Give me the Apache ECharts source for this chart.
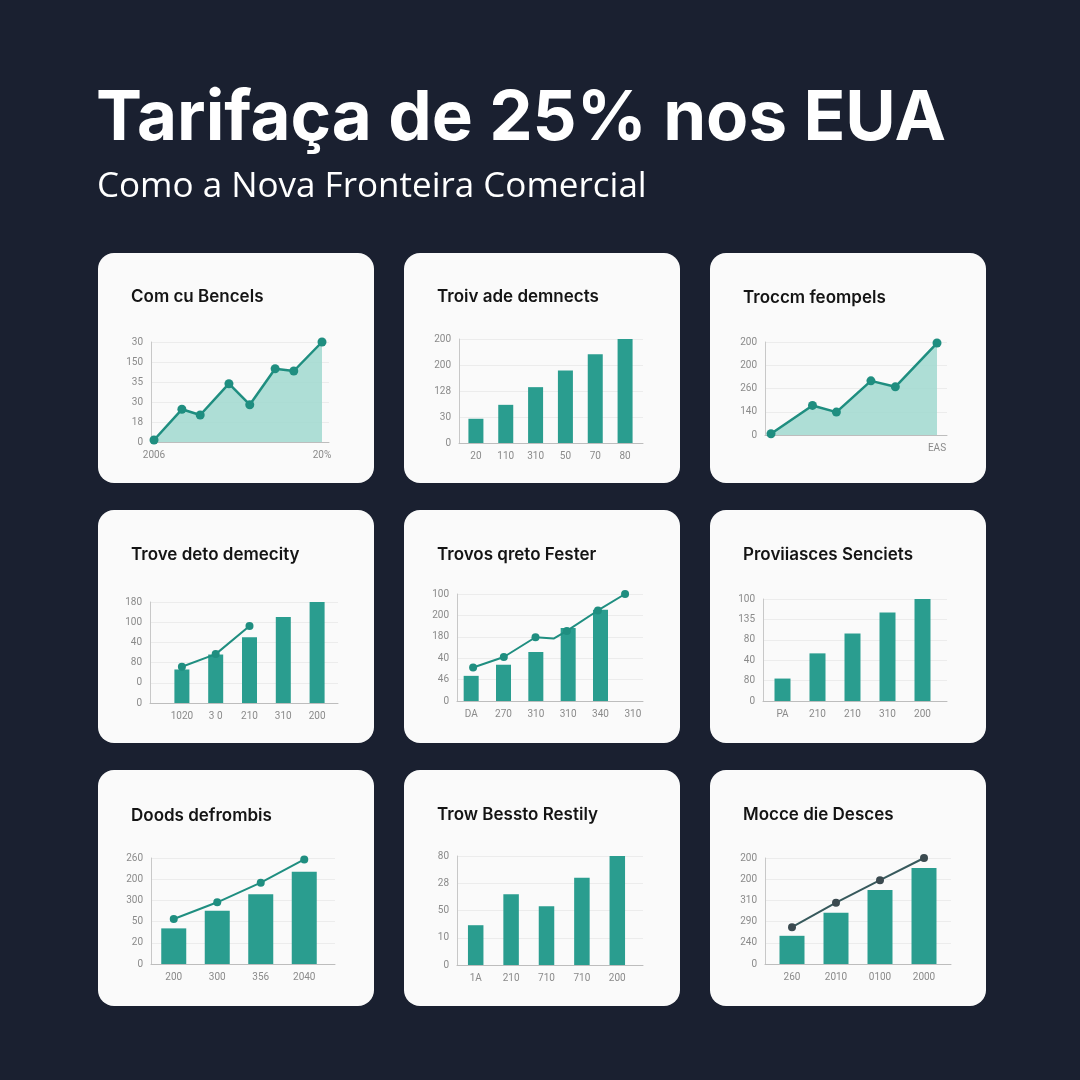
<!DOCTYPE html>
<html>
<head>
<meta charset="utf-8">
<script src="https://cdn.jsdelivr.net/npm/echarts@6/dist/echarts.min.js"></script>
<style>
	html, body { margin: 0; padding: 0; background: #1a2030; }
	#chartWrapper { width: 1080px; height: 1080px; }
</style>
</head>
<body>
<div id="chartWrapper"></div>
<script>
const TEAL = "#2a9d8f" // 柱狀顏色
const LINE_TEAL = "#1f8e80"
const AREA_FILL = "#a5dad1"
const LABEL_COLOR = "#8a8a8a"

// 標題
const mainTitle = "Tarifaça de 25% nos EUA"
const subTitle = "Como a Nova Fronteira Comercial"

// 卡片 1 - 面積圖
const p1Title = "Com cu Bencels"
const p1YLabels = ["0", "18", "30", "35", "150", "30"]
const p1XLabels = ["2006", "20%"]
const p1X = [0, 1.66, 2.75, 4.46, 5.7, 7.21, 8.32, 10]
const p1Values = [2, 32.7, 27, 58.3, 37.3, 73.3, 71, 100]

// 卡片 2 - 柱狀
const p2Title = "Troiv ade demnects"
const p2YLabels = ["0", "30", "128", "200", "200"]
const p2XLabels = ["20", "110", "310", "50", "70", "80"]
const p2Bars = [23.3, 36.7, 53.7, 69.6, 85.3, 100]

// 卡片 3 - 面積圖
const p3Title = "Troccm feompels"
const p3YLabels = ["0", "140", "260", "200", "200"]
const p3XLabels = ["", "EAS"]
const p3X = [0, 2.5, 3.94, 6.02, 7.49, 10]
const p3Values = [1.4, 31.8, 24.6, 58.2, 51.8, 98.9]

// 卡片 4 - 柱狀 + 折線
const p4Title = "Trove deto demecity"
const p4YLabels = ["0", "0", "80", "40", "100", "180"]
const p4XLabels = ["1020", "3 0", "210", "310", "200"]
const p4Bars = [33.2, 48, 65.1, 85.2, 100]
const p4Line = [35.9, 48.4, 76.3, "-", "-"]

// 卡片 5 - 柱狀 + 折線
const p5Title = "Trovos qreto Fester"
const p5YLabels = ["0", "46", "40", "180", "200", "100"]
const p5XLabels = ["DA", "270", "310", "310", "340", "310"]
const p5Bars = [23.5, 33.9, 45.8, 68.3, 85.3, "-"]
const p5LineX = [0.06, 1.01, 1.99, 2.55, 2.96, 3.92, 4.76]
const p5LineY = [31.3, 41.1, 59.6, 58.3, 65.5, 84.6, 100]

// 卡片 6 - 柱狀
const p6Title = "Proviiasces Senciets"
const p6YLabels = ["0", "80", "40", "80", "135", "100"]
const p6XLabels = ["PA", "210", "210", "310", "200"]
const p6Bars = [22, 46.7, 66.1, 86.8, 100]

// 卡片 7 - 柱狀 + 折線
const p7Title = "Doods defrombis"
const p7YLabels = ["0", "20", "50", "300", "200", "260"]
const p7XLabels = ["200", "300", "356", "2040"]
const p7Bars = [33.6, 50.3, 65.7, 87.1]
const p7Line = [42.5, 58.2, 76.7, 98.7]

// 卡片 8 - 柱狀
const p8Title = "Trow Bessto Restily"
const p8YLabels = ["0", "10", "50", "28", "80"]
const p8XLabels = ["1A", "210", "710", "710", "200"]
const p8Bars = [36.5, 65, 54, 80, 100]

// 卡片 9 - 柱狀 + 折線(深色)
const p9Title = "Mocce die Desces"
const p9YLabels = ["0", "240", "290", "310", "200", "200"]
const p9XLabels = ["260", "2010", "0100", "2000"]
const p9Bars = [26.6, 48.4, 69.7, 90.6]
const p9Line = [34.7, 57.8, 79.1, 100]

// 版面: card=[x,y,w,h], frame=[左,右,上,下], band=[資料區左,右]
const panels = [
	{ title: p1Title, card: [98, 253, 276, 230], titleY: 297, frame: [151, 329, 342, 442], band: [154, 322],
	  yLabels: p1YLabels, xLabels: p1XLabels, area: { x: p1X, y: p1Values } },
	{ title: p2Title, card: [404, 253, 276, 230], titleY: 297, frame: [459, 643, 339, 443], band: [461, 640],
	  yLabels: p2YLabels, xLabels: p2XLabels, bars: p2Bars, barWidth: 15 },
	{ title: p3Title, card: [710, 253, 276, 230], titleY: 298, frame: [765, 947, 342, 435], band: [771, 937],
	  yLabels: p3YLabels, xLabels: p3XLabels, area: { x: p3X, y: p3Values } },
	{ title: p4Title, card: [98, 510, 276, 233], titleY: 555, frame: [150, 338, 602, 703], band: [165, 334],
	  yLabels: p4YLabels, xLabels: p4XLabels, bars: p4Bars, barWidth: 15, line: p4Line },
	{ title: p5Title, card: [404, 510, 276, 233], titleY: 555, frame: [457, 643, 594, 701], band: [455, 649],
	  yLabels: p5YLabels, xLabels: p5XLabels, bars: p5Bars, barWidth: 15, freeLine: { x: p5LineX, y: p5LineY, plain: [3] } },
	{ title: p6Title, card: [710, 510, 276, 233], titleY: 555, frame: [763, 947, 599, 701], band: [765, 940],
	  yLabels: p6YLabels, xLabels: p6XLabels, bars: p6Bars, barWidth: 16 },
	{ title: p7Title, card: [98, 770, 276, 236], titleY: 816, frame: [151, 335, 858, 964], band: [152, 326],
	  yLabels: p7YLabels, xLabels: p7XLabels, bars: p7Bars, barWidth: 25, line: p7Line },
	{ title: p8Title, card: [404, 770, 276, 236], titleY: 815, frame: [457, 643, 856, 965], band: [458, 635],
	  yLabels: p8YLabels, xLabels: p8XLabels, bars: p8Bars, barWidth: 15.5 },
	{ title: p9Title, card: [710, 770, 276, 236], titleY: 815, frame: [765, 951, 858, 964], band: [770, 946],
	  yLabels: p9YLabels, xLabels: p9XLabels, bars: p9Bars, barWidth: 25, line: p9Line,
	  lineColor: "#37595c", dotColor: "#3b4a50" },
]

const myChart = echarts.init(document.getElementById("chartWrapper"))

let option = {
	backgroundColor: "#1a2030",
	animation: false,
	graphic: [
		{ type: "text", x: 96, y: 119, z: 10,
		  style: { text: mainTitle, fill: "#ffffff", font: "700 69px Inter", verticalAlign: "middle" } },
		{ type: "text", x: 97, y: 187, z: 10,
		  style: { text: subTitle, fill: "#ffffff", font: "400 35px 'Open Sans'", verticalAlign: "middle" } },
	],
	grid: [],
	xAxis: [],
	yAxis: [],
	series: [],
}

const labelStyle = { color: LABEL_COLOR, fontSize: 10, fontFamily: "Roboto" }

function buildPanel(p) {
	// 卡片底色
	option.graphic.push({
		type: "rect", z: -10,
		shape: { x: p.card[0], y: p.card[1], width: p.card[2], height: p.card[3], r: 16 },
		style: { fill: "#fafafa" },
	})
	option.graphic.push({
		type: "text", x: p.card[0] + 33, y: p.titleY, z: 10,
		style: { text: p.title, fill: "#141414", font: "600 17px Inter", verticalAlign: "middle" },
	})

	const [fl, fr, ft, fb] = p.frame
	const interval = 100 / (p.yLabels.length - 1)

	// 外框網格: 座標軸 + 格線 + Y 刻度
	const fg = option.grid.length
	option.grid.push({ left: fl, top: ft, width: fr - fl, height: fb - ft })
	option.xAxis.push({
		gridIndex: fg, type: "value", min: 0, max: 1,
		axisLine: { show: true, lineStyle: { color: "#bdbdbd" } },
		axisTick: { show: false }, axisLabel: { show: false }, splitLine: { show: false },
	})
	option.yAxis.push({
		gridIndex: fg, type: "value", min: 0, max: 100, interval: interval,
		axisLine: { show: true, lineStyle: { color: "#c8c8c8" } },
		axisTick: { show: false },
		axisLabel: { ...labelStyle, margin: 8, formatter: (v) => p.yLabels[Math.round(v / interval)] },
		splitLine: { lineStyle: { color: "#ececec" } },
	})

	// 資料網格
	const dg = option.grid.length
	option.grid.push({ left: p.band[0], top: ft, width: p.band[1] - p.band[0], height: fb - ft })
	const yIdx = option.yAxis.length
	option.yAxis.push({ gridIndex: dg, type: "value", min: 0, max: 100, show: false })

	const xIdx = option.xAxis.length
	if (p.area) {
		option.xAxis.push({
			gridIndex: dg, type: "value", min: 0, max: 10, interval: 10,
			axisLine: { show: false }, axisTick: { show: false }, splitLine: { show: false },
			axisLabel: { ...labelStyle, margin: 8, formatter: (v) => (v === 0 ? p.xLabels[0] : p.xLabels[1]) },
		})
		option.series.push({
			type: "line", xAxisIndex: xIdx, yAxisIndex: yIdx,
			data: p.area.x.map((x, i) => [x, p.area.y[i]]),
			symbol: "circle", symbolSize: 9,
			lineStyle: { width: 2.5, color: LINE_TEAL },
			itemStyle: { color: LINE_TEAL },
			areaStyle: { color: AREA_FILL, opacity: 0.9 },
			z: 3,
		})
		return
	}

	option.xAxis.push({
		gridIndex: dg, type: "category", data: p.xLabels,
		axisLine: { show: false }, axisTick: { show: false },
		axisLabel: { ...labelStyle, margin: 8, interval: 0 },
	})
	option.series.push({
		type: "bar", xAxisIndex: xIdx, yAxisIndex: yIdx,
		data: p.bars, barWidth: p.barWidth,
		itemStyle: { color: TEAL }, z: 2,
	})

	const lineColor = p.lineColor || LINE_TEAL
	const dotColor = p.dotColor || LINE_TEAL
	if (p.line) {
		option.series.push({
			type: "line", xAxisIndex: xIdx, yAxisIndex: yIdx,
			data: p.line, symbol: "circle", symbolSize: 8,
			lineStyle: { width: 2, color: lineColor },
			itemStyle: { color: dotColor }, z: 4,
		})
	}
	if (p.freeLine) {
		// 折線點不在類別中心，用隱藏的數值軸
		const n = p.xLabels.length
		const vIdx = option.xAxis.length
		option.xAxis.push({ gridIndex: dg, type: "value", min: -0.5, max: n - 0.5, show: false })
		option.series.push({
			type: "line", xAxisIndex: vIdx, yAxisIndex: yIdx,
			data: p.freeLine.x.map((x, i) => {
				const item = { value: [x, p.freeLine.y[i]] }
				if (p.freeLine.plain.includes(i)) item.symbol = "none"
				return item
			}),
			symbol: "circle", symbolSize: 8,
			lineStyle: { width: 2, color: lineColor },
			itemStyle: { color: dotColor }, z: 4,
		})
	}
}

panels.forEach(buildPanel)
myChart.setOption(option)
</script>
</body>
</html>
